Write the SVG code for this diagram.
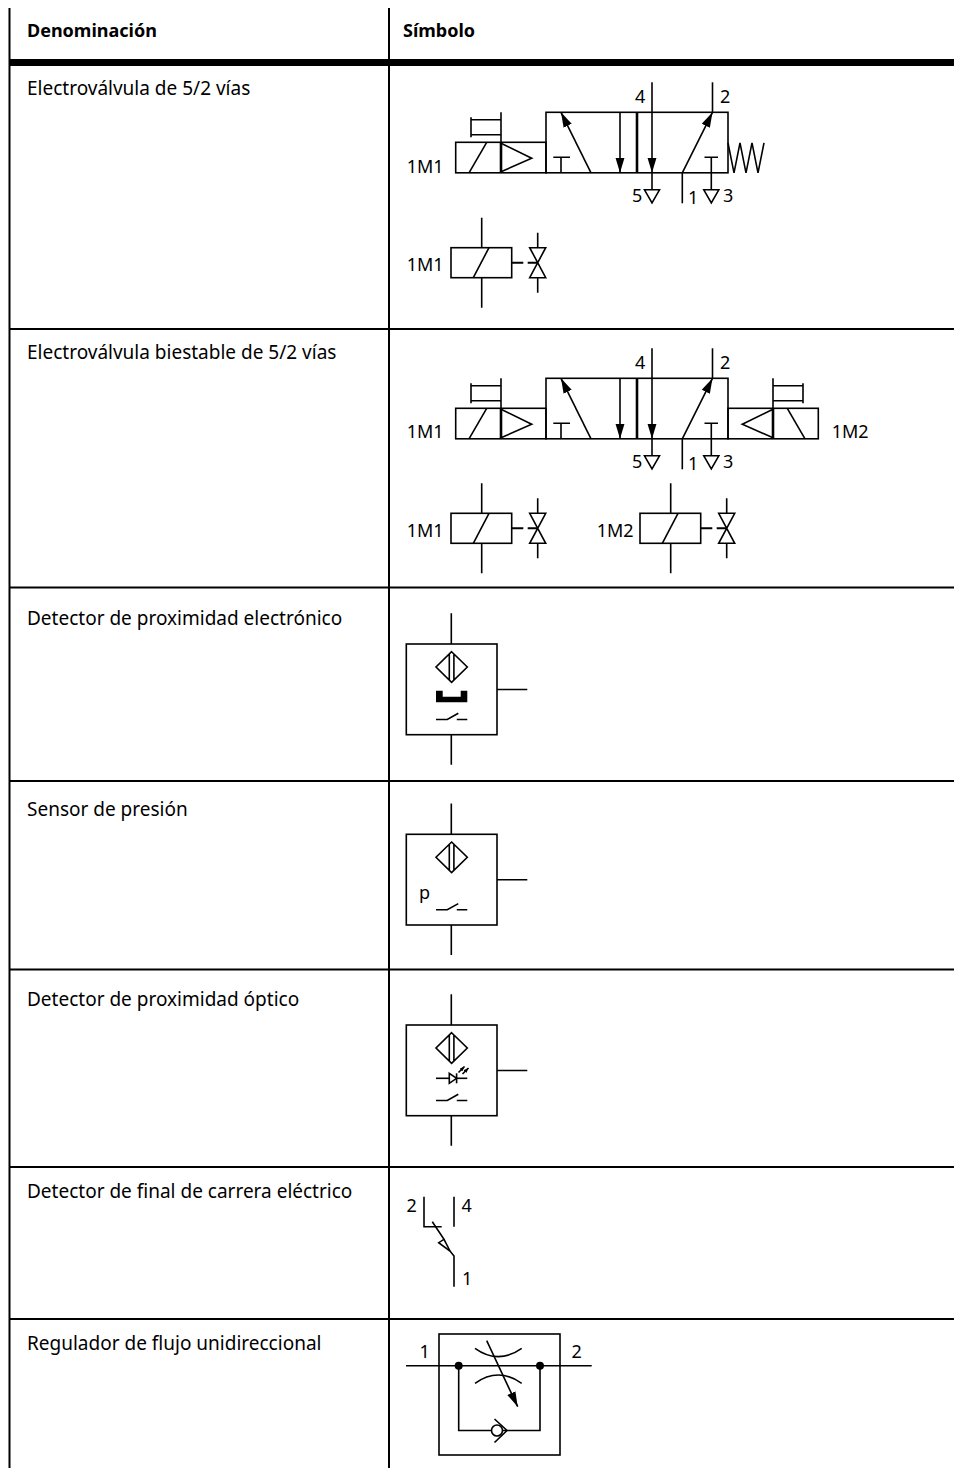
<svg xmlns="http://www.w3.org/2000/svg" width="954" height="1468" viewBox="0 0 954 1468">
<style>
.t{stroke:#000;stroke-width:2;fill:none}
.s{stroke:#000;stroke-width:1.6;fill:none}
.k{stroke:#000;stroke-width:2.6;fill:none}
.f{fill:#000;stroke:none}
.w{fill:#fff;stroke:#000;stroke-width:1.6}
text{font-family:"Noto Sans","DejaVu Sans",sans-serif;fill:#000}
.h{font-size:18px;font-weight:bold}
.r{font-size:19px}
.l{font-size:18px}
</style>
<defs>
<marker id="ah" markerUnits="userSpaceOnUse" markerWidth="16" markerHeight="10" refX="15" refY="5" orient="auto" viewBox="0 0 16 10">
<path d="M0,0.5 L15,5 L0,9.5 Z" fill="#000"/>
</marker>
<marker id="sa" markerUnits="userSpaceOnUse" markerWidth="5" markerHeight="4" refX="5" refY="2" orient="auto" viewBox="0 0 5 4">
<path d="M0,0 L5,2 L0,4 Z" fill="#000"/>
</marker>
<g id="vbody">
<rect class="s" x="0" y="0" width="182" height="60.5"/>
<line class="k" x1="91" y1="0" x2="91" y2="60.5"/>
<path class="s" d="M7.3,45 H24 M15,45 V60.5"/>
<line class="s" x1="45" y1="60.5" x2="15" y2="0" marker-end="url(#ah)"/>
<line class="s" x1="74" y1="0" x2="74" y2="60.5" marker-end="url(#ah)"/>
<line class="s" x1="106" y1="-30" x2="106" y2="60.5" marker-end="url(#ah)"/>
<line class="s" x1="106" y1="60.5" x2="106" y2="77.5"/>
<path class="s" d="M98.5,77.5 H113.5 L106,90.5 Z"/>
<line class="s" x1="136.3" y1="60.5" x2="166.5" y2="0" marker-end="url(#ah)"/>
<line class="s" x1="166.5" y1="-30" x2="166.5" y2="0"/>
<line class="s" x1="136.3" y1="60.5" x2="136.3" y2="91"/>
<path class="s" d="M158.5,45 H172 M165.3,45 V77.5"/>
<path class="s" d="M157.8,77.5 H172.8 L165.3,90.5 Z"/>
</g>
<g id="act">
<rect class="s" x="-90.3" y="30" width="90.3" height="30.5"/>
<line class="k" x1="-45" y1="30" x2="-45" y2="60.5"/>
<line class="s" x1="-77" y1="60.5" x2="-59.3" y2="30"/>
<path class="s" d="M-45,31 L-14.3,46 L-45,59.5"/>
<path class="s" d="M-45,0 V30 M-75,7.5 H-45 M-75,22.5 H-45 M-75,5 V25"/>
</g>
<g id="coil">
<rect class="s" x="0" y="0" width="60.7" height="30"/>
<line class="s" x1="22.3" y1="30" x2="38" y2="0"/>
<path class="s" d="M30.7,-30 V0 M30.7,30 V60"/>
<path class="t" d="M60.7,15 H72.3 M76.7,15 H86.7"/>
<path class="s" d="M78.7,0 H94.7 L78.7,30 H94.7 Z"/>
<path class="s" d="M86.7,-15 V0 M86.7,30 V45"/>
</g>
<g id="sens">
<rect class="s" x="0" y="0" width="90.7" height="90.7"/>
<path class="s" d="M45,-30.7 V0 M45,90.7 V120.7 M90.7,45.5 H121"/>
<path class="s" d="M45.3,7.7 L61,23 L45.3,38.3 L29.7,23 Z M43,10 V36 M47.6,10 V36"/>
<path class="s" d="M29.7,75.5 H41 L52,69.3 M50.5,75.5 H61"/>
</g>
</defs>

<rect x="0" y="0" width="954" height="1468" fill="#fff"/>

<g id="table">
<line class="t" x1="9.5" y1="8" x2="9.5" y2="1468"/>
<line class="t" x1="389" y1="8" x2="389" y2="1468"/>
<rect x="9" y="59" width="945" height="7" fill="#000"/>
<path class="t" d="M9,329 H954 M9,587.5 H954 M9,781 H954 M9,969.5 H954 M9,1167 H954 M9,1319 H954"/>
<text class="h" x="27" y="37">Denominación</text>
<text class="h" x="403" y="37">Símbolo</text>
<text class="r" x="27" y="95">Electroválvula de 5/2 vías</text>
<text class="r" x="27" y="359">Electroválvula biestable de 5/2 vías</text>
<text class="r" x="27" y="625">Detector de proximidad electrónico</text>
<text class="r" x="27" y="816">Sensor de presión</text>
<text class="r" x="27" y="1006">Detector de proximidad óptico</text>
<text class="r" x="27" y="1198">Detector de final de carrera eléctrico</text>
<text class="r" x="27" y="1350">Regulador de flujo unidireccional</text>
</g>

<g id="valve1">
<use href="#vbody" transform="translate(546,112.3)"/>
<use href="#act" transform="translate(546,112.3)"/>
<path class="s" d="M728,142.8 L734,172.8 L740,142.8 L746,172.8 L752,142.8 L758,172.8 L764,142.8"/>
<text class="l" x="406.7" y="172.7">1M1</text>
<text class="l" x="635" y="103">4</text>
<text class="l" x="720" y="103">2</text>
<text class="l" x="632" y="202">5</text>
<text class="l" x="688" y="204">1</text>
<text class="l" x="723" y="202">3</text>
</g>

<g id="coil1">
<use href="#coil" transform="translate(451,247.7)"/>
<text class="l" x="406.7" y="270.7">1M1</text>
</g>

<g id="valve2">
<use href="#vbody" transform="translate(546,378.3)"/>
<use href="#act" transform="translate(546,378.3)"/>
<use href="#act" transform="translate(728,378.3) scale(-1,1)"/>
<text class="l" x="406.7" y="438.3">1M1</text>
<text class="l" x="831.7" y="438.3">1M2</text>
<text class="l" x="635" y="369">4</text>
<text class="l" x="720" y="369">2</text>
<text class="l" x="632" y="468">5</text>
<text class="l" x="688" y="470">1</text>
<text class="l" x="723" y="468">3</text>
</g>

<g id="coil2a">
<use href="#coil" transform="translate(451,513.3)"/>
<text class="l" x="406.7" y="536.7">1M1</text>
</g>
<g id="coil2b">
<use href="#coil" transform="translate(640,513.3)"/>
<text class="l" x="596.7" y="536.7">1M2</text>
</g>

<g id="prox-electronic">
<use href="#sens" transform="translate(406.3,644)"/>
<path class="f" d="M436,690.7 H442.7 V696.7 H460.7 V690.7 H467.3 V702.3 H436 Z"/>
</g>

<g id="pressure">
<use href="#sens" transform="translate(406.3,834.3)"/>
<text class="l" x="419" y="898.5">p</text>
</g>

<g id="prox-optical">
<use href="#sens" transform="translate(406.3,1025)"/>
<path class="s" d="M436,1078.3 H467.3"/>
<path class="w" d="M449.3,1073.3 L456.6,1078.3 L449.3,1083.3 Z"/>
<path class="s" d="M456.6,1073.3 V1083.3"/>
<line class="s" x1="458.5" y1="1072.5" x2="464.5" y2="1066.5" stroke-width="1.3" marker-end="url(#sa)"/>
<line class="s" x1="462.5" y1="1074" x2="468.5" y2="1068" stroke-width="1.3" marker-end="url(#sa)"/>
</g>

<g id="limit-switch">
<path class="s" d="M424,1196.7 V1226.7 H441.7 M454,1196.7 V1226.7"/>
<path class="s" d="M432.3,1221.7 L444,1239.3 L438.7,1242.7 L450,1251 L454,1256 V1286.7"/>
<path class="s" d="M444,1239.3 L450,1251"/>
<text class="l" x="406.5" y="1211.7">2</text>
<text class="l" x="461.5" y="1211.7">4</text>
<text class="l" x="462" y="1285">1</text>
</g>

<g id="flow-regulator">
<rect class="s" x="439" y="1334" width="121" height="121"/>
<path class="s" d="M406,1365.7 H591.7"/>
<path class="s" d="M458.7,1365.7 V1430.5 H540 V1365.7"/>
<circle class="f" cx="458.7" cy="1365.7" r="4"/>
<circle class="f" cx="540" cy="1365.7" r="4"/>
<circle class="w" cx="497" cy="1430.5" r="5.5"/>
<path class="s" d="M494.5,1419 L507,1430.5 L494.5,1442.5"/>
<path class="s" d="M475,1348.3 Q498.3,1365 521.7,1348.3 M475,1383.3 Q498.3,1366.7 521.7,1383.3"/>
<line class="s" x1="486.7" y1="1340.7" x2="517.7" y2="1406.7" marker-end="url(#ah)"/>
<text class="l" x="419.5" y="1358.3">1</text>
<text class="l" x="571.5" y="1358.3">2</text>
</g>
</svg>
